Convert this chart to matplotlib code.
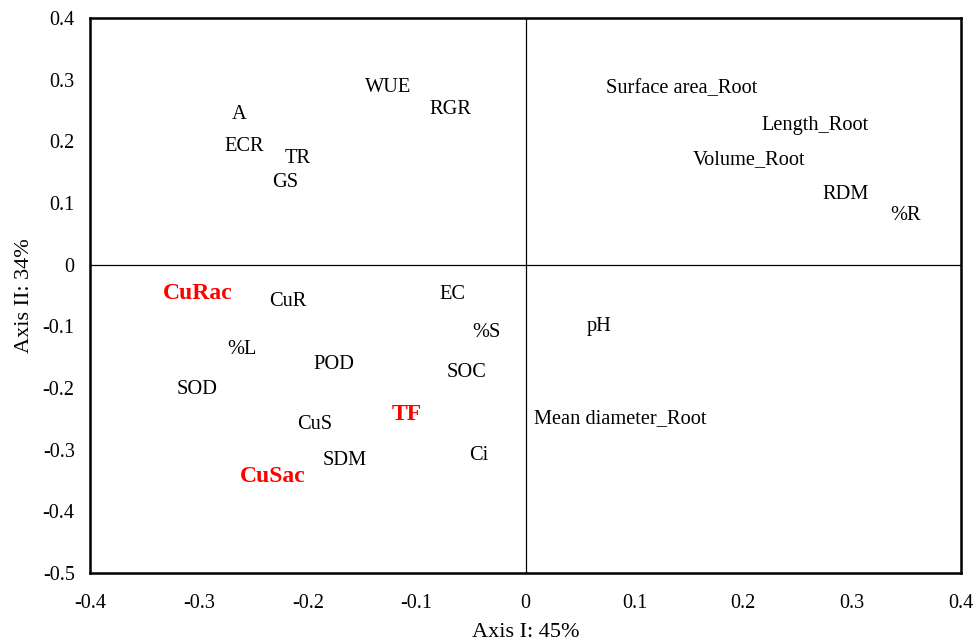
import matplotlib
matplotlib.use("Agg")
from matplotlib import pyplot as plt

plt.rcParams['font.family'] = ['Liberation Serif', 'DejaVu Serif']

# variable loadings on the first two axes
names = ["WUE", "RGR", "A", "ECR", "TR", "GS",
         "Surface area_Root", "Length_Root", "Volume_Root", "RDM", "%R",
         "CuR", "EC", "%S", "pH", "%L", "POD", "SOC", "SOD",
         "Mean diameter_Root", "CuS", "SDM", "Ci"]
axis1 = [-0.126, -0.069, -0.263, -0.258, -0.209, -0.221,
         0.143, 0.266, 0.205, 0.294, 0.349,
         -0.218, -0.067, -0.036, 0.068, -0.260, -0.176, -0.054, -0.302,
         0.087, -0.194, -0.166, -0.043]
axis2 = [0.288, 0.251, 0.243, 0.191, 0.172, 0.134,
         0.285, 0.225, 0.170, 0.113, 0.079,
         -0.060, -0.049, -0.110, -0.100, -0.138, -0.162, -0.175, -0.203,
         -0.250, -0.259, -0.318, -0.310]

# highlighted copper variables
hl_names = ["CuRac", "TF", "CuSac"]
hl_axis1 = [-0.301, -0.109, -0.232]
hl_axis2 = [-0.046, -0.243, -0.344]

fig, ax = plt.subplots(figsize=(9.74, 6.41), dpi=100)
fig.subplots_adjust(left=0.0924, right=0.9867, top=0.972, bottom=0.106)

for n, x, y in zip(names, axis1, axis2):
    ax.text(x, y, n, ha="center", va="center", fontsize=14.7)
for n, x, y in zip(hl_names, hl_axis1, hl_axis2):
    ax.text(x, y, n, ha="center", va="center", fontsize=17,
            color="red", fontweight="bold")

ax.axhline(0, color="black", lw=0.9)
ax.axvline(0, color="black", lw=0.9)

ax.set_xlim(-0.4, 0.4)
ax.set_ylim(-0.5, 0.4)
ax.set_xticks([-0.4, -0.3, -0.2, -0.1, 0, 0.1, 0.2, 0.3, 0.4])
ax.set_yticks([-0.5, -0.4, -0.3, -0.2, -0.1, 0, 0.1, 0.2, 0.3, 0.4])
ax.set_xticklabels(["-0.4", "-0.3", "-0.2", "-0.1", "0", "0.1", "0.2", "0.3", "0.4"])
ax.set_yticklabels(["-0.5", "-0.4", "-0.3", "-0.2", "-0.1", "0", "0.1", "0.2", "0.3", "0.4"])
ax.tick_params(length=0, labelsize=14.5)
ax.tick_params(axis="x", pad=15)
ax.tick_params(axis="y", pad=11)
for s in ax.spines.values():
    s.set_linewidth(1.8)

ax.set_xlabel("Axis I: 45%", fontsize=16, labelpad=7)
ax.set_ylabel("Axis II: 34%", fontsize=16, labelpad=6)

plt.savefig("out.png")
